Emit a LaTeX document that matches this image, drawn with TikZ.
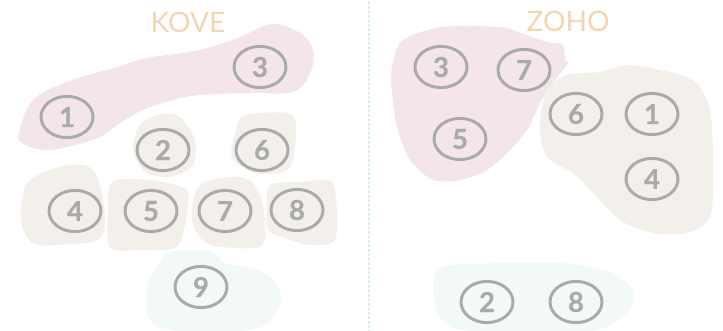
\documentclass[tikz,border=0pt]{standalone}
\usepackage{fontspec}
\setmainfont{Lato}
\newfontfamily\digitfont{Lato Bold}[FakeBold=0.6]
\definecolor{BlobPink}{HTML}{F3E5E8}
\definecolor{BlobSand}{HTML}{F3F0EB}
\definecolor{BlobMint}{HTML}{F3F9F9}
\definecolor{BallGray}{HTML}{AAAAAA}
\definecolor{TitlePeach}{HTML}{F5D4B2}
\definecolor{RuleMint}{HTML}{D6ECE9}
\tikzset{
  ball/.style={draw=BallGray,line width=2.1pt,ellipse,minimum width=13mm,minimum height=10.3mm,inner sep=0pt,text=BallGray,font=\digitfont\fontsize{19.5}{19.5}\selectfont},
  grouptitle/.style={text=TitlePeach,font=\fontsize{20}{20}\selectfont,inner sep=0pt}
}
\usetikzlibrary{shapes.geometric}
\begin{document}
\begin{tikzpicture}[x=0.25mm,y=-0.25mm,line cap=round,line join=round]
  \useasboundingbox (0,0) rectangle (723,331);
  \fill[BlobPink] plot[smooth cycle,tension=.6] coordinates {(19,132)(33,100)(67,82)(117,67)(147,58)(200,50)(240,37)(272,24)(300,33)(313,50)(310,73)(293,92)(250,93)(200,95)(173,100)(143,110)(120,123)(100,137)(67,147)(43,150)(22,143)};
  \fill[BlobSand] plot[smooth cycle] coordinates {(140,125)(160,114)(180,117)(195,140)(193,165)(170,177)(145,172)(133,150)};
  \fill[BlobSand] plot[smooth cycle] coordinates {(245,115)(288,113)(296,125)(293,160)(283,172)(255,173)(232,158)(236,130)};
  \fill[BlobSand] plot[smooth cycle,tension=.6] coordinates {(30,180)(60,167)(88,166)(100,185)(105,220)(98,240)(70,244)(35,244)(22,225)(22,200)};
  \fill[BlobSand] plot[smooth cycle,tension=.5] coordinates {(112,182)(150,180)(175,185)(188,192)(185,225)(175,248)(140,250)(110,248)(108,215)};
  \fill[BlobSand] plot[smooth cycle,tension=.6] coordinates {(205,182)(240,177)(258,190)(265,220)(262,245)(235,248)(205,242)(192,220)(195,195)};
  \fill[BlobSand] plot[smooth cycle,tension=.5] coordinates {(270,185)(300,182)(330,181)(336,200)(335,240)(310,245)(285,238)(268,230)(267,205)};
  \fill[BlobMint] plot[smooth cycle,tension=.6] coordinates {(170,252)(210,251)(225,263)(260,270)(280,290)(275,315)(250,330)(180,331)(150,320)(148,285)(160,262)};
  \fill[BlobPink] plot[smooth cycle,tension=.5] coordinates {(392,67)(403,40)(443,27)(500,27)(520,33)(547,42)(563,45)(565,60)(568,63)(553,83)(540,103)(527,130)(507,153)(487,170)(460,180)(433,180)(410,160)(397,127)(392,93)};
  \fill[BlobSand] plot[smooth cycle,tension=.5] coordinates {(540,127)(547,90)(567,75)(600,72)(627,65)(660,70)(693,80)(710,110)(713,167)(710,217)(687,233)(653,233)(620,220)(593,193)(573,173)(547,157)};
  \fill[BlobMint] plot[smooth cycle,tension=.5] coordinates {(440,268)(470,264)(560,263)(610,272)(633,292)(625,315)(590,331)(470,331)(440,318)(433,290)};
  \draw[RuleMint,line width=1.2pt,dotted] (369,2)--(369,331);
  \node[grouptitle] (kove) at (188,22) {KOVE};
  \node[grouptitle] (zoho) at (568,21) {ZOHO};
  \foreach \n/\x/\y in {1/67/117,3/260/67,2/163/150,6/262/150,4/75/211,5/151/211,7/225/211,8/297/210,9/201/287}
    \node[ball] (k\n) at (\x,\y) {\n};
  \foreach \n/\x/\y in {3/441/67,7/524/70,5/460/139,6/576/114,1/652/114,4/652/179,2/487/302,8/576/302}
    \node[ball] (z\n) at (\x,\y) {\n};
\end{tikzpicture}
\end{document}
